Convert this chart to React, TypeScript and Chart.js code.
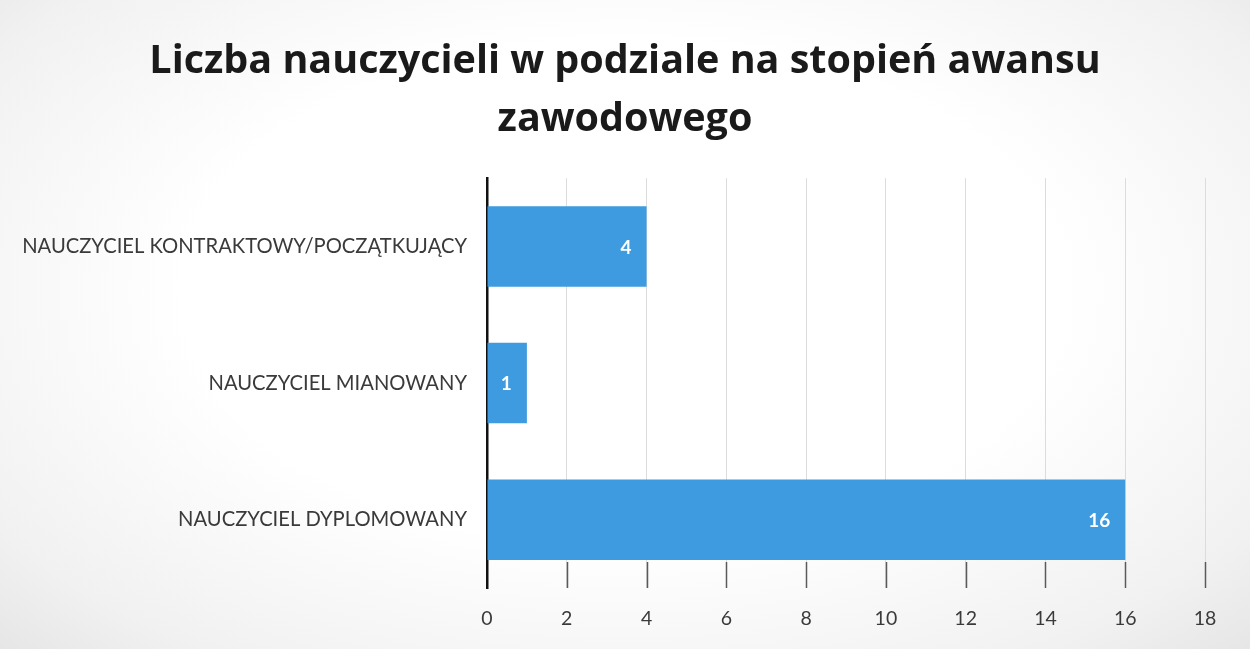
import React, { useEffect, useRef } from "react";
import { Chart, registerables } from "chart.js";

Chart.register(...registerables);

const categories = [
  "NAUCZYCIEL KONTRAKTOWY/POCZĄTKUJĄCY",
  "NAUCZYCIEL MIANOWANY",
  "NAUCZYCIEL DYPLOMOWANY",
];
const values = [4, 1, 16];
const titleLines = ["Liczba nauczycieli w podziale na stopień awansu", "zawodowego"];
const axisMin = 0;
const axisMax = 18;
const axisStep = 2;

const FONT = "Lato, 'Open Sans', sans-serif";
const TITLE_FONT = "'Open Sans', Lato, sans-serif";

const barLabels = {
  id: "barLabels",
  afterDatasetsDraw(chart: any) {
    const ctx = chart.ctx;
    const meta = chart.getDatasetMeta(0);
    ctx.save();
    ctx.fillStyle = "#ffffff";
    ctx.font = `bold 19px ${FONT}`;
    ctx.textAlign = "right";
    ctx.textBaseline = "middle";
    meta.data.forEach((bar: any, i: number) => {
      ctx.fillText(String(chart.data.datasets[0].data[i]), bar.x - 15, bar.y + 1);
    });
    ctx.restore();
  },
};

const tickMarks = {
  id: "tickMarks",
  afterDatasetsDraw(chart: any) {
    const ctx = chart.ctx;
    const xs = chart.scales.x;
    const bottom = chart.chartArea.bottom;
    ctx.save();
    ctx.strokeStyle = "#5a5a5a";
    ctx.lineWidth = 1.5;
    xs.ticks.forEach((t: any, i: number) => {
      if (i === 0) return;
      const x = Math.round(xs.getPixelForValue(t.value)) + 0.5;
      ctx.beginPath();
      ctx.moveTo(x, bottom - 26);
      ctx.lineTo(x, bottom);
      ctx.stroke();
    });
    ctx.restore();
  },
};

export default function App() {
  const ref = useRef<HTMLCanvasElement | null>(null);
  useEffect(() => {
    if (!ref.current) return;
    const chart = new Chart(ref.current, {
      type: "bar",
      data: {
        labels: categories,
        datasets: [
          {
            data: values,
            backgroundColor: "#3e9bdf",
            borderWidth: 0,
            categoryPercentage: 0.59,
            barPercentage: 1,
          },
        ],
      },
      plugins: [barLabels, tickMarks],
      options: {
        indexAxis: "y",
        animation: false,
        responsive: false,
        maintainAspectRatio: false,
        layout: { padding: 0 },
        plugins: {
          legend: { display: false },
          tooltip: { enabled: false },
          title: {
            display: true,
            text: titleLines,
            color: "#1a1a1a",
            font: { family: TITLE_FONT, size: 39.5, weight: "bold", lineHeight: 1.47 },
            padding: { top: 33, bottom: 29 },
          },
        },
        scales: {
          x: {
            min: axisMin,
            max: axisMax,
            ticks: {
              stepSize: axisStep,
              color: "#3a3a3a",
              font: { family: FONT, size: 19.5 },
              padding: 19,
            },
            grid: { color: "#dcdcdc", lineWidth: 1, drawTicks: false },
            border: { display: false },
            afterFit(scale: any) {
              scale.height = 61;
            },
          },
          y: {
            ticks: {
              color: "#3a3a3a",
              font: { family: FONT, size: 20.2 },
              padding: 20,
            },
            grid: { display: false, drawTicks: false },
            border: { display: true, color: "#111111", width: 2.5 },
            afterFit(scale: any) {
              scale.width = 487;
            },
          },
          spacer: {
            type: "category",
            position: "right",
            axis: "y",
            labels: categories,
            ticks: { display: false },
            grid: { display: false, drawTicks: false },
            border: { display: false },
            afterFit(scale: any) {
              scale.width = 45;
            },
          },
        },
      },
    });
    return () => chart.destroy();
  }, []);
  return (
    <div
      style={{
        position: "fixed",
        left: 0,
        top: 0,
        width: 1250,
        height: 649,
        background:
          "radial-gradient(ellipse at 50% 45%, #ffffff 50%, #f1f1f1 85%, #e6e6e6 100%)",
      }}
    >
      <canvas ref={ref} width={1250} height={649} style={{ display: "block" }} />
    </div>
  );
}
